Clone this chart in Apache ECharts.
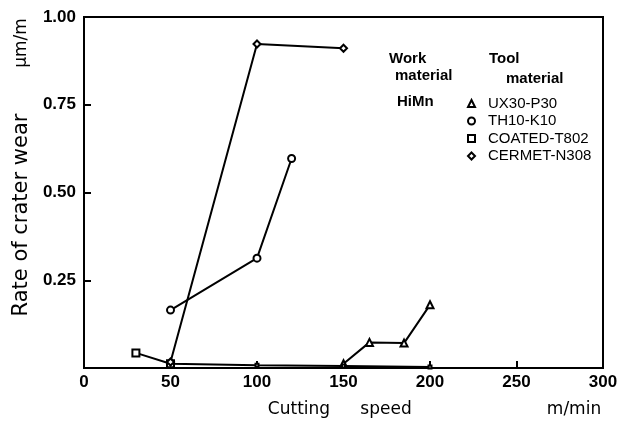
<!DOCTYPE html>
<html>
<head>
<meta charset="utf-8">
<script src="https://cdn.jsdelivr.net/npm/echarts@6/dist/echarts.min.js"></script>
<style>html,body{margin:0;padding:0;background:#fff}#c{width:624px;height:434px}</style>
</head>
<body>
<div id="c"></div>
<script>
// Cutting speed (m/min) and rate of crater wear (um/m)
const seriesNames = ['UX30-P30', 'TH10-K10', 'COATED-T802', 'CERMET-N308'];
const seriesSymbols = ['triangle', 'circle', 'rect', 'diamond'];
const ux30 = [[150, 0.012], [165, 0.073], [185, 0.071], [200, 0.18]];
const th10 = [[50, 0.165], [100, 0.313], [120, 0.597]];
const coated = [[30, 0.043], [50, 0.012], [100, 0.008], [150, 0.006], [200, 0.003]];
const cermet = [[50, 0.017], [100, 0.923], [150, 0.911]];
const xTicks = [0, 50, 100, 150, 200, 250, 300];
const yTicks = [0, 0.25, 0.5, 0.75, 1.0];

const dataSets = [ux30, th10, coated, cermet];
const FONT = 'Liberation Sans';

const chart = echarts.init(document.getElementById('c'), null, {renderer: 'canvas'});
const option = {
  backgroundColor: '#fff',
  animation: false,
  grid: {left: 84, right: 21, top: 17, bottom: 66, show: true, borderColor: '#000', borderWidth: 2, backgroundColor: 'transparent'},
  xAxis: {
    type: 'value', min: xTicks[0], max: xTicks[xTicks.length - 1], interval: 50,
    axisLine: {show: true, lineStyle: {color: '#000', width: 2}},
    axisTick: {show: true, inside: true, length: 7, lineStyle: {color: '#000', width: 2}},
    axisLabel: {color: '#000', fontSize: 17, fontWeight: 'bold', fontFamily: FONT, margin: 6},
    splitLine: {show: false}
  },
  yAxis: {
    type: 'value', min: yTicks[0], max: yTicks[yTicks.length - 1], interval: 0.25,
    axisLine: {show: true, lineStyle: {color: '#000', width: 2}},
    axisTick: {show: true, inside: true, length: 7, lineStyle: {color: '#000', width: 2}},
    axisLabel: {color: '#000', fontSize: 17, fontWeight: 'bold', fontFamily: FONT, margin: 8,
      formatter: v => v === 0 ? '' : v.toFixed(2)},
    splitLine: {show: false}
  },
  legend: {
    orient: 'vertical', left: 462, top: 90, itemWidth: 7, itemHeight: 7, itemGap: 0.5,
    selectedMode: false,
    data: seriesNames.map((n, i) => ({name: n, icon: seriesSymbols[i]})),
    itemStyle: {color: '#fff', borderColor: '#000', borderWidth: 2},
    textStyle: {color: '#000', fontSize: 15, fontFamily: FONT, padding: [0, 0, 0, 8], lineHeight: 17}
  },
  series: dataSets.map((d, i) => ({
    name: seriesNames[i], type: 'line', data: d,
    symbol: seriesSymbols[i],
    symbolSize: v => (i === 2 && v[1] < 0.01) ? 3 : 7,
    showSymbol: true,
    lineStyle: {color: '#000', width: 2},
    itemStyle: {color: '#fff', borderColor: '#000', borderWidth: 2},
    z: 3 + i
  })),
  graphic: [
    {type: 'text', x: 22, y: 215, rotation: Math.PI / 2, style: {text: 'Rate of crater wear', font: '21px "DejaVu Sans"', fill: '#000', align: 'center', verticalAlign: 'middle'}},
    {type: 'text', x: 22, y: 43, rotation: Math.PI / 2, style: {text: 'μm/m', font: '17px "DejaVu Sans"', fill: '#000', align: 'center', verticalAlign: 'middle'}},
    {type: 'text', x: 299, y: 410, style: {text: 'Cutting', font: '17px "DejaVu Sans"', fill: '#000', align: 'center', verticalAlign: 'middle'}},
    {type: 'text', x: 386, y: 410, style: {text: 'speed', font: '17px "DejaVu Sans"', fill: '#000', align: 'center', verticalAlign: 'middle'}},
    {type: 'text', x: 574, y: 410, style: {text: 'm/min', font: '17px "DejaVu Sans"', fill: '#000', align: 'center', verticalAlign: 'middle'}},
    {type: 'text', x: 389, y: 59, style: {text: 'Work', font: 'bold 15px ' + FONT, fill: '#000', align: 'left', verticalAlign: 'middle'}},
    {type: 'text', x: 395, y: 76, style: {text: 'material', font: 'bold 15px ' + FONT, fill: '#000', align: 'left', verticalAlign: 'middle'}},
    {type: 'text', x: 489, y: 59, style: {text: 'Tool', font: 'bold 15px ' + FONT, fill: '#000', align: 'left', verticalAlign: 'middle'}},
    {type: 'text', x: 506, y: 79, style: {text: 'material', font: 'bold 15px ' + FONT, fill: '#000', align: 'left', verticalAlign: 'middle'}},
    {type: 'text', x: 397, y: 102, style: {text: 'HiMn', font: 'bold 15px ' + FONT, fill: '#000', align: 'left', verticalAlign: 'middle'}}
  ]
};
chart.setOption(option);
</script>
</body>
</html>
